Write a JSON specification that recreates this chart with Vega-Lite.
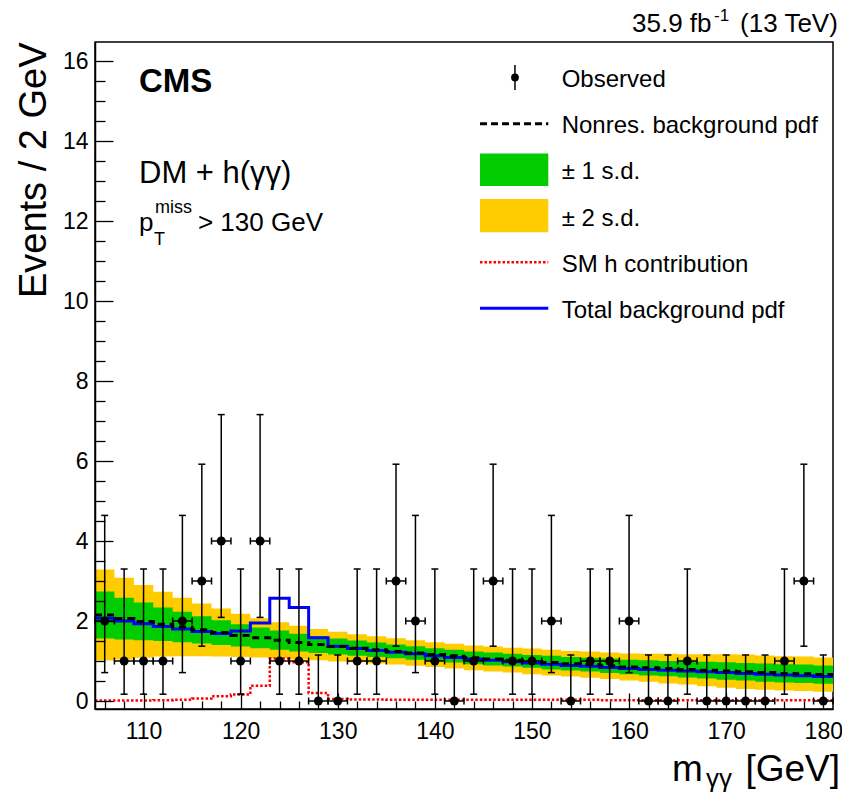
{
  "$schema": "https://vega.github.io/schema/vega-lite/v6.json",
  "width": 738,
  "height": 667,
  "autosize": "none",
  "padding": {"left": 95, "top": 42, "right": 9, "bottom": 86},
  "background": "white",
  "config": {
    "font": "Liberation Sans",
    "view": {"stroke": "black", "strokeWidth": 1.5}
  },
  "resolve": {"axis": {"x": "independent", "y": "independent"}},
  "datasets": {
    "bins": [
      {"m":105,"c":2.15,"lo1":1.56,"hi1":2.74,"lo2":1.01,"hi2":3.29,"tot":2.07,"sm":0.01},
      {"m":107,"c":2.06,"lo1":1.54,"hi1":2.58,"lo2":1.04,"hi2":3.08,"tot":2.00,"sm":0.01},
      {"m":109,"c":1.99,"lo1":1.52,"hi1":2.46,"lo2":1.08,"hi2":2.90,"tot":1.93,"sm":0.01},
      {"m":111,"c":1.92,"lo1":1.50,"hi1":2.34,"lo2":1.11,"hi2":2.73,"tot":1.86,"sm":0.02},
      {"m":113,"c":1.85,"lo1":1.47,"hi1":2.23,"lo2":1.12,"hi2":2.58,"tot":1.80,"sm":0.03},
      {"m":115,"c":1.78,"lo1":1.44,"hi1":2.12,"lo2":1.12,"hi2":2.44,"tot":1.74,"sm":0.06},
      {"m":117,"c":1.71,"lo1":1.40,"hi1":2.02,"lo2":1.11,"hi2":2.31,"tot":1.69,"sm":0.12},
      {"m":119,"c":1.64,"lo1":1.36,"hi1":1.92,"lo2":1.10,"hi2":2.18,"tot":1.75,"sm":0.16},
      {"m":121,"c":1.58,"lo1":1.32,"hi1":1.84,"lo2":1.09,"hi2":2.07,"tot":1.95,"sm":0.38},
      {"m":123,"c":1.52,"lo1":1.28,"hi1":1.76,"lo2":1.07,"hi2":1.97,"tot":2.57,"sm":1.06},
      {"m":125,"c":1.46,"lo1":1.24,"hi1":1.68,"lo2":1.04,"hi2":1.88,"tot":2.34,"sm":0.97},
      {"m":127,"c":1.41,"lo1":1.20,"hi1":1.62,"lo2":1.02,"hi2":1.80,"tot":1.58,"sm":0.20},
      {"m":129,"c":1.36,"lo1":1.16,"hi1":1.56,"lo2":0.99,"hi2":1.73,"tot":1.37,"sm":0.05},
      {"m":131,"c":1.32,"lo1":1.13,"hi1":1.51,"lo2":0.97,"hi2":1.67,"tot":1.31,"sm":0.04},
      {"m":133,"c":1.28,"lo1":1.10,"hi1":1.46,"lo2":0.94,"hi2":1.62,"tot":1.26,"sm":0.04},
      {"m":135,"c":1.24,"lo1":1.07,"hi1":1.41,"lo2":0.91,"hi2":1.57,"tot":1.22,"sm":0.03},
      {"m":137,"c":1.20,"lo1":1.03,"hi1":1.37,"lo2":0.88,"hi2":1.52,"tot":1.18,"sm":0.03},
      {"m":139,"c":1.16,"lo1":1.00,"hi1":1.32,"lo2":0.85,"hi2":1.47,"tot":1.13,"sm":0.03},
      {"m":141,"c":1.12,"lo1":0.96,"hi1":1.28,"lo2":0.81,"hi2":1.43,"tot":1.09,"sm":0.03},
      {"m":143,"c":1.08,"lo1":0.92,"hi1":1.24,"lo2":0.77,"hi2":1.39,"tot":1.05,"sm":0.03},
      {"m":145,"c":1.05,"lo1":0.89,"hi1":1.21,"lo2":0.74,"hi2":1.36,"tot":1.02,"sm":0.03},
      {"m":147,"c":1.02,"lo1":0.86,"hi1":1.18,"lo2":0.71,"hi2":1.33,"tot":0.98,"sm":0.03},
      {"m":149,"c":0.99,"lo1":0.83,"hi1":1.15,"lo2":0.67,"hi2":1.31,"tot":0.95,"sm":0.03},
      {"m":151,"c":0.96,"lo1":0.79,"hi1":1.13,"lo2":0.64,"hi2":1.28,"tot":0.92,"sm":0.03},
      {"m":153,"c":0.93,"lo1":0.76,"hi1":1.10,"lo2":0.61,"hi2":1.25,"tot":0.89,"sm":0.03},
      {"m":155,"c":0.91,"lo1":0.74,"hi1":1.08,"lo2":0.58,"hi2":1.24,"tot":0.87,"sm":0.03},
      {"m":157,"c":0.88,"lo1":0.70,"hi1":1.06,"lo2":0.55,"hi2":1.21,"tot":0.84,"sm":0.02},
      {"m":159,"c":0.85,"lo1":0.67,"hi1":1.03,"lo2":0.51,"hi2":1.19,"tot":0.81,"sm":0.02},
      {"m":161,"c":0.83,"lo1":0.64,"hi1":1.02,"lo2":0.48,"hi2":1.18,"tot":0.79,"sm":0.02},
      {"m":163,"c":0.81,"lo1":0.62,"hi1":1.00,"lo2":0.44,"hi2":1.18,"tot":0.77,"sm":0.02},
      {"m":165,"c":0.79,"lo1":0.59,"hi1":0.99,"lo2":0.41,"hi2":1.17,"tot":0.75,"sm":0.02},
      {"m":167,"c":0.77,"lo1":0.56,"hi1":0.98,"lo2":0.37,"hi2":1.17,"tot":0.73,"sm":0.02},
      {"m":169,"c":0.75,"lo1":0.53,"hi1":0.97,"lo2":0.33,"hi2":1.17,"tot":0.71,"sm":0.02},
      {"m":171,"c":0.73,"lo1":0.51,"hi1":0.95,"lo2":0.30,"hi2":1.16,"tot":0.69,"sm":0.02},
      {"m":173,"c":0.71,"lo1":0.48,"hi1":0.94,"lo2":0.28,"hi2":1.14,"tot":0.67,"sm":0.02},
      {"m":175,"c":0.69,"lo1":0.46,"hi1":0.92,"lo2":0.26,"hi2":1.12,"tot":0.65,"sm":0.02},
      {"m":177,"c":0.68,"lo1":0.45,"hi1":0.91,"lo2":0.25,"hi2":1.11,"tot":0.63,"sm":0.02},
      {"m":179,"c":0.66,"lo1":0.43,"hi1":0.89,"lo2":0.23,"hi2":1.09,"tot":0.61,"sm":0.02},
      {"m":181,"c":0.66,"lo1":0.43,"hi1":0.89,"lo2":0.23,"hi2":1.09,"tot":0.61,"sm":0.02}
    ],
    "obs": [
      {"m":106,"n":2,"lo":0.71,"hi":4.64,"xl":105,"xh":107},
      {"m":108,"n":1,"lo":0.17,"hi":3.30,"xl":107,"xh":109},
      {"m":110,"n":1,"lo":0.17,"hi":3.30,"xl":109,"xh":111},
      {"m":112,"n":1,"lo":0.17,"hi":3.30,"xl":111,"xh":113},
      {"m":114,"n":2,"lo":0.71,"hi":4.64,"xl":113,"xh":115},
      {"m":116,"n":3,"lo":1.37,"hi":5.92,"xl":115,"xh":117},
      {"m":118,"n":4,"lo":2.09,"hi":7.16,"xl":117,"xh":119},
      {"m":120,"n":1,"lo":0.17,"hi":3.30,"xl":119,"xh":121},
      {"m":122,"n":4,"lo":2.09,"hi":7.16,"xl":121,"xh":123},
      {"m":124,"n":1,"lo":0.17,"hi":3.30,"xl":123,"xh":125},
      {"m":126,"n":1,"lo":0.17,"hi":3.30,"xl":125,"xh":127},
      {"m":128,"n":0,"lo":0,"hi":1.15,"xl":127,"xh":129},
      {"m":130,"n":0,"lo":0,"hi":1.15,"xl":129,"xh":131},
      {"m":132,"n":1,"lo":0.17,"hi":3.30,"xl":131,"xh":133},
      {"m":134,"n":1,"lo":0.17,"hi":3.30,"xl":133,"xh":135},
      {"m":136,"n":3,"lo":1.37,"hi":5.92,"xl":135,"xh":137},
      {"m":138,"n":2,"lo":0.71,"hi":4.64,"xl":137,"xh":139},
      {"m":140,"n":1,"lo":0.17,"hi":3.30,"xl":139,"xh":141},
      {"m":142,"n":0,"lo":0,"hi":1.15,"xl":141,"xh":143},
      {"m":144,"n":1,"lo":0.17,"hi":3.30,"xl":143,"xh":145},
      {"m":146,"n":3,"lo":1.37,"hi":5.92,"xl":145,"xh":147},
      {"m":148,"n":1,"lo":0.17,"hi":3.30,"xl":147,"xh":149},
      {"m":150,"n":1,"lo":0.17,"hi":3.30,"xl":149,"xh":151},
      {"m":152,"n":2,"lo":0.71,"hi":4.64,"xl":151,"xh":153},
      {"m":154,"n":0,"lo":0,"hi":1.15,"xl":153,"xh":155},
      {"m":156,"n":1,"lo":0.17,"hi":3.30,"xl":155,"xh":157},
      {"m":158,"n":1,"lo":0.17,"hi":3.30,"xl":157,"xh":159},
      {"m":160,"n":2,"lo":0.71,"hi":4.64,"xl":159,"xh":161},
      {"m":162,"n":0,"lo":0,"hi":1.15,"xl":161,"xh":163},
      {"m":164,"n":0,"lo":0,"hi":1.15,"xl":163,"xh":165},
      {"m":166,"n":1,"lo":0.17,"hi":3.30,"xl":165,"xh":167},
      {"m":168,"n":0,"lo":0,"hi":1.15,"xl":167,"xh":169},
      {"m":170,"n":0,"lo":0,"hi":1.15,"xl":169,"xh":171},
      {"m":172,"n":0,"lo":0,"hi":1.15,"xl":171,"xh":173},
      {"m":174,"n":0,"lo":0,"hi":1.15,"xl":173,"xh":175},
      {"m":176,"n":1,"lo":0.17,"hi":3.30,"xl":175,"xh":177},
      {"m":178,"n":3,"lo":1.37,"hi":5.92,"xl":177,"xh":179},
      {"m":180,"n":0,"lo":0,"hi":1.15,"xl":179,"xh":181}
    ],
    "one": [{}]
  },
  "layer": [
    {
      "data": {"name": "bins"},
      "mark": {"type": "area", "interpolate": "step-after", "color": "#ffcc00", "opacity": 1},
      "encoding": {
        "x": {"field": "m", "type": "quantitative",
          "scale": {"domain": [105, 181], "nice": false, "zero": false},
          "axis": {
            "orient": "bottom",
            "values": [110,120,130,140,150,160,170,180],
            "zindex": 1, "grid": false,
            "domain": true, "domainColor": "black", "domainWidth": 1.5,
            "tickColor": "black", "tickWidth": 1.3, "tickSize": -16,
            "labelPadding": 27, "labelFontSize": 23, "labelColor": "black", "labelFont": "Liberation Sans",
            "labelOverlap": false, "labelBound": false, "labelFlush": false,
            "title": null
          }
        },
        "y": {"field": "hi2", "type": "quantitative",
          "scale": {"domain": [-0.2, 16.475], "nice": false, "zero": false},
          "axis": {
            "orient": "left",
            "values": [0,2,4,6,8,10,12,14,16],
            "zindex": 1, "grid": false,
            "domain": true, "domainColor": "black", "domainWidth": 1.5,
            "tickColor": "black", "tickWidth": 1.3, "tickSize": -18,
            "labelPadding": 25, "labelFontSize": 23, "labelColor": "black", "labelFont": "Liberation Sans",
            "labelOverlap": false, "labelBound": false, "labelFlush": false,
            "title": "Events / 2 GeV", "titleFontSize": 38, "titleFontWeight": "normal", "titleColor": "black",
            "titleFont": "Liberation Sans", "titleAnchor": "end", "titleAngle": 270, "titleAlign": "right",
            "titleBaseline": "alphabetic", "titleX": -50, "titleY": 0
          }
        },
        "y2": {"field": "lo2"}
      }
    },
    {
      "data": {"name": "bins"},
      "mark": {"type": "area", "interpolate": "step-after", "color": "#00cc00", "opacity": 1},
      "encoding": {
        "x": {"field": "m", "type": "quantitative",
          "axis": {
            "orient": "bottom",
            "values": [106,108,112,114,116,118,122,124,126,128,132,134,136,138,142,144,146,148,152,154,156,158,162,164,166,168,172,174,176,178],
            "zindex": 1, "grid": false, "domain": false, "labels": false,
            "tickColor": "black", "tickWidth": 1.3, "tickSize": -8, "title": null
          }
        },
        "y": {"field": "hi1", "type": "quantitative",
          "axis": {
            "orient": "left",
            "values": [0.5,1,1.5,2.5,3,3.5,4.5,5,5.5,6.5,7,7.5,8.5,9,9.5,10.5,11,11.5,12.5,13,13.5,14.5,15,15.5,16.5],
            "zindex": 1, "grid": false, "domain": false, "labels": false,
            "tickColor": "black", "tickWidth": 1.3, "tickSize": -10, "title": null
          }
        },
        "y2": {"field": "lo1"}
      }
    },
    {
      "data": {"name": "bins"},
      "mark": {"type": "line", "interpolate": "step-after", "color": "#ff0000", "strokeWidth": 2.5, "strokeDash": [2.5, 2]},
      "encoding": {
        "x": {"field": "m", "type": "quantitative", "axis": null},
        "y": {"field": "sm", "type": "quantitative", "axis": null}
      }
    },
    {
      "data": {"name": "bins"},
      "mark": {"type": "line", "interpolate": "step-after", "color": "#0000ff", "strokeWidth": 3},
      "encoding": {
        "x": {"field": "m", "type": "quantitative", "axis": null},
        "y": {"field": "tot", "type": "quantitative", "axis": null}
      }
    },
    {
      "data": {"name": "bins"},
      "mark": {"type": "line", "interpolate": "step-after", "color": "black", "strokeWidth": 3, "strokeDash": [7, 5]},
      "encoding": {
        "x": {"field": "m", "type": "quantitative", "axis": null},
        "y": {"field": "c", "type": "quantitative", "axis": null}
      }
    },
    {
      "data": {"name": "obs"},
      "mark": {"type": "rule", "color": "black", "strokeWidth": 1.5},
      "encoding": {
        "x": {"field": "m", "type": "quantitative", "axis": null},
        "y": {"field": "lo", "type": "quantitative", "axis": null},
        "y2": {"field": "hi"}
      }
    },
    {
      "data": {"name": "obs"},
      "mark": {"type": "rule", "color": "black", "strokeWidth": 1.5},
      "encoding": {
        "x": {"field": "xl", "type": "quantitative", "axis": null},
        "x2": {"field": "xh"},
        "y": {"field": "n", "type": "quantitative", "axis": null}
      }
    },
    {
      "data": {"name": "obs"},
      "mark": {"type": "tick", "orient": "horizontal", "size": 7, "thickness": 1.5, "color": "black", "opacity": 1},
      "encoding": {
        "x": {"field": "m", "type": "quantitative", "axis": null},
        "y": {"field": "hi", "type": "quantitative", "axis": null}
      }
    },
    {
      "data": {"name": "obs"},
      "mark": {"type": "tick", "orient": "horizontal", "size": 7, "thickness": 1.5, "color": "black", "opacity": 1},
      "encoding": {
        "x": {"field": "m", "type": "quantitative", "axis": null},
        "y": {"field": "lo", "type": "quantitative", "axis": null}
      }
    },
    {
      "data": {"name": "obs"},
      "mark": {"type": "tick", "orient": "vertical", "size": 7, "thickness": 1.5, "color": "black", "opacity": 1},
      "encoding": {
        "x": {"field": "xl", "type": "quantitative", "axis": null},
        "y": {"field": "n", "type": "quantitative", "axis": null}
      }
    },
    {
      "data": {"name": "obs"},
      "mark": {"type": "tick", "orient": "vertical", "size": 7, "thickness": 1.5, "color": "black", "opacity": 1},
      "encoding": {
        "x": {"field": "xh", "type": "quantitative", "axis": null},
        "y": {"field": "n", "type": "quantitative", "axis": null}
      }
    },
    {
      "data": {"name": "obs"},
      "mark": {"type": "point", "shape": "circle", "filled": true, "size": 80, "color": "black", "opacity": 1},
      "encoding": {
        "x": {"field": "m", "type": "quantitative", "axis": null},
        "y": {"field": "n", "type": "quantitative", "axis": null}
      }
    },
    {
      "data": {"name": "one"},
      "mark": {"type": "rule", "color": "black", "strokeWidth": 1.5},
      "encoding": {"x": {"datum": 148.25, "axis": null}, "y": {"datum": 15.275, "axis": null}, "y2": {"datum": 15.9}}
    },
    {
      "data": {"name": "one"},
      "mark": {"type": "point", "shape": "circle", "filled": true, "size": 60, "color": "black", "opacity": 1},
      "encoding": {"x": {"datum": 148.25, "axis": null}, "y": {"datum": 15.59, "axis": null}}
    },
    {
      "data": {"name": "one"},
      "mark": {"type": "rule", "color": "black", "strokeWidth": 3, "strokeDash": [7, 4]},
      "encoding": {"x": {"datum": 144.65, "axis": null}, "x2": {"datum": 151.68}, "y": {"datum": 14.43, "axis": null}}
    },
    {
      "data": {"name": "one"},
      "mark": {"type": "rect", "color": "#00cc00", "opacity": 1},
      "encoding": {"x": {"datum": 144.65, "axis": null}, "x2": {"datum": 151.68}, "y": {"datum": 13.69, "axis": null}, "y2": {"datum": 12.875}}
    },
    {
      "data": {"name": "one"},
      "mark": {"type": "rect", "color": "#ffcc00", "opacity": 1},
      "encoding": {"x": {"datum": 144.65, "axis": null}, "x2": {"datum": 151.68}, "y": {"datum": 12.55, "axis": null}, "y2": {"datum": 11.72}}
    },
    {
      "data": {"name": "one"},
      "mark": {"type": "rule", "color": "#ff0000", "strokeWidth": 2.5, "strokeDash": [2.5, 2]},
      "encoding": {"x": {"datum": 144.65, "axis": null}, "x2": {"datum": 151.68}, "y": {"datum": 10.97, "axis": null}}
    },
    {
      "data": {"name": "one"},
      "mark": {"type": "rule", "color": "#0000ff", "strokeWidth": 3},
      "encoding": {"x": {"datum": 144.65, "axis": null}, "x2": {"datum": 151.68}, "y": {"datum": 9.82, "axis": null}}
    },
    {
      "data": {"name": "one"},
      "mark": {"type": "text", "text": "Observed", "fontSize": 24, "align": "left", "baseline": "alphabetic", "color": "black"},
      "encoding": {"x": {"datum": 153.06, "axis": null}, "y": {"datum": 15.34, "axis": null}}
    },
    {
      "data": {"name": "one"},
      "mark": {"type": "text", "text": "Nonres. background pdf", "fontSize": 24, "align": "left", "baseline": "alphabetic", "color": "black"},
      "encoding": {"x": {"datum": 153.06, "axis": null}, "y": {"datum": 14.19, "axis": null}}
    },
    {
      "data": {"name": "one"},
      "mark": {"type": "text", "text": "± 1 s.d.", "fontSize": 24, "align": "left", "baseline": "alphabetic", "color": "black"},
      "encoding": {"x": {"datum": 153.06, "axis": null}, "y": {"datum": 13.04, "axis": null}}
    },
    {
      "data": {"name": "one"},
      "mark": {"type": "text", "text": "± 2 s.d.", "fontSize": 24, "align": "left", "baseline": "alphabetic", "color": "black"},
      "encoding": {"x": {"datum": 153.06, "axis": null}, "y": {"datum": 11.875, "axis": null}}
    },
    {
      "data": {"name": "one"},
      "mark": {"type": "text", "text": "SM h contribution", "fontSize": 24, "align": "left", "baseline": "alphabetic", "color": "black"},
      "encoding": {"x": {"datum": 153.06, "axis": null}, "y": {"datum": 10.73, "axis": null}}
    },
    {
      "data": {"name": "one"},
      "mark": {"type": "text", "text": "Total background pdf", "fontSize": 24, "align": "left", "baseline": "alphabetic", "color": "black"},
      "encoding": {"x": {"datum": 153.06, "axis": null}, "y": {"datum": 9.57, "axis": null}}
    },
    {
      "data": {"name": "one"},
      "mark": {"type": "text", "text": "CMS", "fontSize": 33, "fontWeight": "bold", "align": "left", "baseline": "alphabetic", "color": "black"},
      "encoding": {"x": {"datum": 109.53, "axis": null}, "y": {"datum": 15.22, "axis": null}}
    },
    {
      "data": {"name": "one"},
      "mark": {"type": "text", "text": "DM + h(γγ)", "fontSize": 31, "align": "left", "baseline": "alphabetic", "color": "black"},
      "encoding": {"x": {"datum": 109.53, "axis": null}, "y": {"datum": 12.95, "axis": null}}
    },
    {
      "data": {"name": "one"},
      "mark": {"type": "text", "text": "p", "fontSize": 26, "align": "left", "baseline": "alphabetic", "color": "black"},
      "encoding": {"x": {"datum": 109.53, "axis": null}, "y": {"datum": 11.75, "axis": null}}
    },
    {
      "data": {"name": "one"},
      "mark": {"type": "text", "text": "T", "fontSize": 18, "align": "left", "baseline": "alphabetic", "color": "black"},
      "encoding": {"x": {"datum": 111.08, "axis": null}, "y": {"datum": 11.4, "axis": null}}
    },
    {
      "data": {"name": "one"},
      "mark": {"type": "text", "text": "miss", "fontSize": 18, "align": "left", "baseline": "alphabetic", "color": "black"},
      "encoding": {"x": {"datum": 111.18, "axis": null}, "y": {"datum": 12.2, "axis": null}}
    },
    {
      "data": {"name": "one"},
      "mark": {"type": "text", "text": "> 130 GeV", "fontSize": 26, "align": "left", "baseline": "alphabetic", "color": "black"},
      "encoding": {"x": {"datum": 115.6, "axis": null}, "y": {"datum": 11.75, "axis": null}}
    },
    {
      "data": {"name": "one"},
      "mark": {"type": "text", "text": "35.9 fb", "fontSize": 26, "align": "left", "baseline": "alphabetic", "color": "black"},
      "encoding": {"x": {"datum": 160.3, "axis": null}, "y": {"datum": 16.725, "axis": null}}
    },
    {
      "data": {"name": "one"},
      "mark": {"type": "text", "text": "-1", "fontSize": 17, "align": "left", "baseline": "alphabetic", "color": "black"},
      "encoding": {"x": {"datum": 168.75, "axis": null}, "y": {"datum": 17.0, "axis": null}}
    },
    {
      "data": {"name": "one"},
      "mark": {"type": "text", "text": "(13 TeV)", "fontSize": 26, "align": "right", "baseline": "alphabetic", "color": "black"},
      "encoding": {"x": {"datum": 181.5, "axis": null}, "y": {"datum": 16.725, "axis": null}}
    },
    {
      "data": {"name": "one"},
      "mark": {"type": "text", "text": "m", "fontSize": 37, "align": "left", "baseline": "alphabetic", "color": "black"},
      "encoding": {"x": {"datum": 164.42, "axis": null}, "y": {"datum": -2.0, "axis": null}}
    },
    {
      "data": {"name": "one"},
      "mark": {"type": "text", "text": "γγ", "fontSize": 26, "align": "left", "baseline": "alphabetic", "color": "black"},
      "encoding": {"x": {"datum": 167.92, "axis": null}, "y": {"datum": -2.15, "axis": null}}
    },
    {
      "data": {"name": "one"},
      "mark": {"type": "text", "text": "[GeV]", "fontSize": 37, "align": "right", "baseline": "alphabetic", "color": "black"},
      "encoding": {"x": {"datum": 181.72, "axis": null}, "y": {"datum": -2.0, "axis": null}}
    }
  ]
}
